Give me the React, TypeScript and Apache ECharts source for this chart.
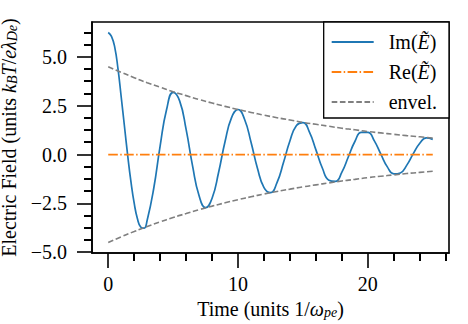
import React, { useEffect, useRef } from "react";
import * as echarts from "echarts";

const imTime = [
  0, 0.25, 0.5, 0.75, 1.0, 1.25, 1.5, 1.75, 2.0, 2.25, 2.5, 2.75, 3.0,
  3.5, 4.0, 4.5, 5.0, 5.5, 6.0, 6.5, 7.0, 7.5, 8.0, 8.5, 9.0, 9.5, 10.0,
  10.5, 11.0, 11.5, 12.0, 12.5, 13.0, 13.5, 14.0, 14.5, 15.0, 15.5, 16.0,
  16.5, 17.0, 17.5, 18.0, 18.5, 19.0, 19.5, 20.0, 20.5, 21.0, 21.5, 22.0,
  22.5, 23.0, 23.5, 24.0, 24.5, 25.0,
];
const imValues = [
  6.25, 6.05, 5.5, 4.4, 2.95, 1.45, -0.05, -1.39, -2.49, -3.29, -3.71, -3.77, -3.36,
  -1.75, 0.45, 2.32, 3.19, 2.75, 1.29, -0.59, -2.11, -2.72, -2.24, -0.92, 0.67, 1.89, 2.31,
  1.81, 0.63, -0.71, -1.69, -1.95, -1.44, -0.41, 0.71, 1.49, 1.64, 1.15, 0.24,
  -0.7, -1.31, -1.37, -0.9, -0.11, 0.67, 1.14, 1.14, 0.7, 0.02, -0.63, -0.99,
  -0.94, -0.54, 0.05, 0.58, 0.86, 0.78,
];

// Re(E~)
const reTime = [0, 25];
const reValues = [0, 0];

// envelope
const envTime = [
  0, 1, 2, 3, 4, 5, 6, 7, 8, 9, 10, 11, 12, 13, 14, 15, 16, 17, 18, 19, 20, 21, 22, 23, 24, 25,
];
const envUpper = [
  4.5, 4.21, 3.94, 3.68, 3.45, 3.22, 3.02, 2.82, 2.64, 2.47, 2.31, 2.16, 2.02, 1.89, 1.77,
  1.65, 1.55, 1.45, 1.35, 1.27, 1.18, 1.11, 1.04, 0.97, 0.91, 0.85,
];
const envLower = [
  -4.5, -4.21, -3.94, -3.68, -3.45, -3.22, -3.02, -2.82, -2.64, -2.47, -2.31, -2.16, -2.02,
  -1.89, -1.77, -1.65, -1.55, -1.45, -1.35, -1.27, -1.18, -1.11, -1.04, -0.97, -0.91, -0.85,
];

// ticks
const X_MIN = -1.25;
const X_MAX = 26.25;
const Y_MIN = -5.04;
const Y_MAX = 6.79;
const xMajorTicks = [0, 10, 20];
const xMinorTicks = [2, 4, 6, 8, 12, 14, 16, 18, 22, 24, 26];
const yMajorTicks = [-5, -2.5, 0, 2.5, 5];
const yMinorTicks = [
  -4.375, -3.75, -3.125, -1.875, -1.25, -0.625, 0.625, 1.25, 1.875, 3.125, 3.75, 4.375,
  5.625, 6.25,
];

const FONT = "'Liberation Serif', 'Times New Roman', serif";
const BLUE = "#1f77b4";
const ORANGE = "#ff7f0e";
const GRAY = "#7f7f7f";
const MINOR_LEN = 8;

const richStyles = {
  r: { fontFamily: FONT, fontSize: 20, color: "#000", lineHeight: 22 },
  i: { fontFamily: FONT, fontSize: 20, fontStyle: "italic", color: "#000", lineHeight: 22 },
  s: {
    fontFamily: FONT,
    fontSize: 14,
    fontStyle: "italic",
    color: "#000",
    lineHeight: 12,
    verticalAlign: "bottom",
  },
};

const pairs = (xs: number[], ys: number[]) => xs.map((x, i) => [x, ys[i]]);
const fmtY = (v: number) => (v < 0 ? "\u2212" : "") + Math.abs(v).toFixed(1);

export default function App() {
  const ref = useRef<HTMLDivElement>(null);
  useEffect(() => {
    if (!ref.current) return;
    const chart = echarts.init(ref.current, undefined, { renderer: "svg" });
    const legendNames: Record<string, string> = {
      "Im(Ẽ)": "{r|Im(}{i|Ẽ}{r|)}",
      "Re(Ẽ)": "{r|Re(}{i|Ẽ}{r|)}",
      "envel.": "{r|envel.}",
    };
    chart.setOption({
      animation: false,
      backgroundColor: "#fff",
      textStyle: { fontFamily: FONT },
      grid: {
        left: 92,
        right: 19,
        top: 22,
        bottom: 71,
        show: true,
        borderColor: "#000",
        borderWidth: 1.6,
        backgroundColor: "transparent",
        outerBoundsMode: "none",
      },
      legend: {
        orient: "vertical",
        align: "left",
        right: 19,
        top: 22,
        itemWidth: 42,
        itemHeight: 14,
        itemGap: 10,
        padding: [10, 12, 6, 7],
        borderColor: "#000",
        borderWidth: 1.3,
        borderRadius: 0,
        backgroundColor: "#fff",
        itemStyle: { opacity: 0 },
        data: ["Im(Ẽ)", "Re(Ẽ)", "envel."],
        formatter: (n: string) => legendNames[n] || n,
        textStyle: {
          fontFamily: FONT,
          fontSize: 20,
          color: "#000",
          padding: [0, 0, 0, 10],
          rich: richStyles,
        },
      },
      xAxis: [
        {
          type: "value",
          min: X_MIN,
          max: X_MAX,
          position: "bottom",
          splitLine: { show: false },
          axisLine: { show: true, onZero: false, lineStyle: { color: "#000", width: 1.6 } },
          axisTick: {
            show: true,
            customValues: xMajorTicks,
            length: 15,
            lineStyle: { color: "#000", width: 1.6 },
          },
          axisLabel: {
            customValues: xMajorTicks,
            margin: 20,
            fontFamily: FONT,
            fontSize: 20,
            color: "#000",
            formatter: (v: number) => "{r|" + String(v) + "}",
            rich: richStyles,
          },
          name: "{r|Time (units 1/}{i|ω}{s|pe}{r|)}",
          nameLocation: "middle",
          nameGap: 42,
          nameTextStyle: { fontFamily: FONT, fontSize: 20, color: "#000", rich: richStyles },
        },
      ],
      yAxis: [
        {
          type: "value",
          min: Y_MIN,
          max: Y_MAX,
          position: "left",
          splitLine: { show: false },
          axisLine: { show: true, onZero: false, lineStyle: { color: "#000", width: 1.6 } },
          axisTick: {
            show: true,
            customValues: yMajorTicks,
            length: 15,
            lineStyle: { color: "#000", width: 1.6 },
          },
          axisLabel: {
            customValues: yMajorTicks,
            margin: 25,
            fontFamily: FONT,
            fontSize: 20,
            color: "#000",
            formatter: (v: number) => "{r|" + fmtY(v) + "}",
            rich: richStyles,
          },
          name: "{r|Electric Field (units }{i|k}{s|B}{i|T}{r|/}{i|eλ}{s|De}{r|)}",
          nameLocation: "middle",
          nameGap: 64,
          nameTextStyle: { fontFamily: FONT, fontSize: 20, color: "#000", rich: richStyles },
        },
      ],
      series: [
        {
          name: "Im(Ẽ)",
          type: "line",
          data: pairs(imTime, imValues),
          smooth: true,
          symbol: "none",
          lineStyle: { color: BLUE, width: 1.7 },
          itemStyle: { color: BLUE },
          z: 2,
        },
        {
          name: "Re(Ẽ)",
          type: "line",
          data: pairs(reTime, reValues),
          symbol: "none",
          lineStyle: { color: ORANGE, width: 1.6, type: [9.6, 2.4, 1.5, 2.4] },
          itemStyle: { color: ORANGE },
          z: 3,
        },
        {
          name: "envel.",
          type: "line",
          data: pairs(envTime, envUpper),
          smooth: true,
          symbol: "none",
          lineStyle: { color: GRAY, width: 1.6, type: [5.6, 2.6] },
          itemStyle: { color: GRAY },
          z: 4,
        },
        {
          name: "envel.",
          type: "line",
          data: pairs(envTime, envLower),
          smooth: true,
          symbol: "none",
          lineStyle: { color: GRAY, width: 1.6, type: [5.6, 2.6] },
          itemStyle: { color: GRAY },
          z: 4,
        },
      ],
    });

    // minor ticks, positioned through the chart's own scales
    const minorEls: any[] = [];
    yMinorTicks.forEach((v) => {
      const p = chart.convertToPixel({ xAxisIndex: 0, yAxisIndex: 0 }, [X_MIN, v]) as number[];
      const y = Math.round(p[1]);
      minorEls.push({
        type: "line",
        silent: true,
        z: 100,
        shape: { x1: p[0] - MINOR_LEN, y1: y, x2: p[0], y2: y },
        style: { stroke: "#000", lineWidth: 2 },
      });
    });
    xMinorTicks.forEach((v) => {
      const p = chart.convertToPixel({ xAxisIndex: 0, yAxisIndex: 0 }, [v, Y_MIN]) as number[];
      const x = Math.round(p[0]);
      minorEls.push({
        type: "line",
        silent: true,
        z: 100,
        shape: { x1: x, y1: p[1], x2: x, y2: p[1] + MINOR_LEN },
        style: { stroke: "#000", lineWidth: 2 },
      });
    });
    chart.setOption({ graphic: { elements: minorEls } });

    return () => chart.dispose();
  }, []);
  return (
    <div
      ref={ref}
      style={{ position: "fixed", left: 0, top: 0, width: 468, height: 324 }}
    />
  );
}
